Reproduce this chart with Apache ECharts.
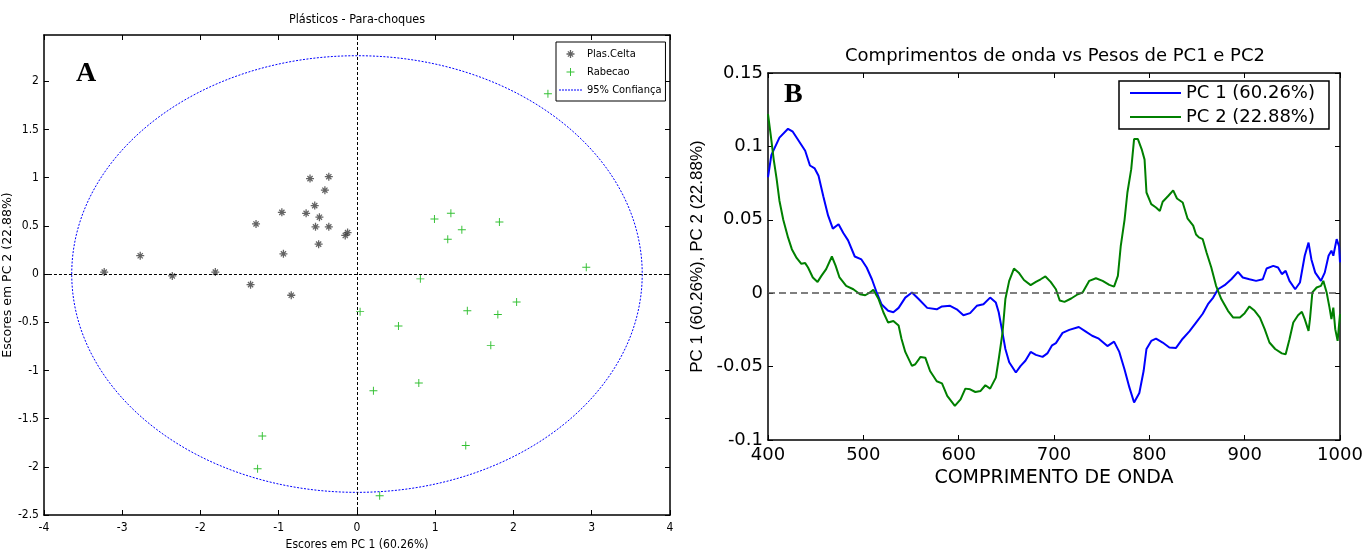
<!DOCTYPE html>
<html><head><meta charset="utf-8">
<script src="https://cdn.jsdelivr.net/npm/echarts@6/dist/echarts.min.js"></script>
<style>html,body{margin:0;padding:0;background:#fff}#c{width:1366px;height:556px}</style>
</head><body><div id="c"></div>
<script>
// ---- Panel A: PCA scores ----
const celtaX = [-3.23, -2.77, -2.36, -1.81, -1.36, -0.84, -1.29, -0.96, -0.94, -0.65, -0.60, -0.36, -0.41, -0.54, -0.48, -0.53, -0.36, -0.49, -0.15, -0.12];
const celtaY = [0.02, 0.19, -0.02, 0.02, -0.11, -0.22, 0.52, 0.64, 0.21, 0.63, 0.99, 1.01, 0.87, 0.71, 0.59, 0.49, 0.49, 0.31, 0.40, 0.43];
const rabX = [2.44, 0.99, 1.20, 1.82, 1.34, 1.16, 2.93, 0.81, 0.04, 1.41, 1.80, 2.04, 0.53, 1.71, 0.79, 0.21, 1.39, -1.21, -1.27, 0.29];
const rabY = [1.87, 0.57, 0.63, 0.54, 0.46, 0.36, 0.07, -0.05, -0.39, -0.38, -0.42, -0.29, -0.54, -0.74, -1.13, -1.21, -1.78, -1.68, -2.02, -2.30];
// confidence ellipse: centre x, centre y, semi-axis x, semi-axis y
const ellipse95 = [0, 0, 3.645, 2.265];
const seriesNamesA = ['Plas.Celta', 'Rabecao', '95% Confiança'];

// ---- Panel B: loadings ----
const pc1Wl = [400, 403.5, 407, 412, 421, 426, 432, 439, 444, 449, 453, 458, 463, 468, 474, 479, 484, 491, 498, 503.5, 509, 514, 519, 526, 531.5, 537, 544, 551, 558, 567, 577, 582.5, 591, 598, 605, 612, 619, 626, 633, 639, 642, 646, 649, 653, 660, 665, 670, 675.5, 681, 688, 693, 698, 702, 709, 716, 726, 733, 740, 747, 756, 763, 768.5, 774, 779, 784, 789.5, 794, 797, 802, 807, 814, 821, 828, 835, 842, 849, 856, 861.5, 867, 872, 879, 886, 893, 898, 905, 912, 919, 923, 930, 935, 939, 943, 947, 953, 958, 963, 967, 970, 974, 980, 984, 988, 991, 993, 996.5, 999, 1000];
const pc1Val = [0.079, 0.094, 0.099, 0.106, 0.112, 0.110, 0.104, 0.097, 0.087, 0.085, 0.080, 0.066, 0.053, 0.044, 0.047, 0.041, 0.036, 0.025, 0.023, 0.0175, 0.0095, 0.0005, -0.0075, -0.012, -0.013, -0.010, -0.003, 0.0005, -0.004, -0.010, -0.011, -0.009, -0.0086, -0.011, -0.015, -0.0136, -0.0086, -0.0075, -0.003, -0.0064, -0.013, -0.027, -0.038, -0.047, -0.054, -0.0495, -0.046, -0.040, -0.042, -0.0434, -0.041, -0.0355, -0.034, -0.027, -0.025, -0.023, -0.026, -0.029, -0.031, -0.036, -0.033, -0.040, -0.052, -0.064, -0.0745, -0.068, -0.053, -0.038, -0.0325, -0.031, -0.0336, -0.037, -0.0373, -0.031, -0.026, -0.020, -0.014, -0.0075, -0.003, 0.0027, 0.0055, 0.0095, 0.0145, 0.0107, 0.0095, 0.0084, 0.0095, 0.0168, 0.0186, 0.0175, 0.013, 0.0152, 0.0084, 0.0027, 0.0073, 0.0255, 0.0345, 0.023, 0.014, 0.0084, 0.014, 0.0255, 0.029, 0.0255, 0.0368, 0.032, 0.021];
const pc2Wl = [400, 403, 406, 409, 412, 416, 421, 425, 430, 435, 439, 442, 447, 452, 456, 461, 467, 471, 475, 482, 489.5, 496.5, 502, 507, 510.5, 516, 521, 526, 531.5, 537, 540, 544, 551, 554.5, 560, 565, 570, 577, 582.5, 588, 596, 602, 607, 612, 617.5, 623, 628, 633, 639, 642, 646, 649, 653, 658, 663, 668.5, 675.5, 681, 686, 691, 696.5, 702, 706, 711, 718, 725, 730, 737, 744, 751, 758, 763, 767, 770, 774, 777, 781, 784, 788, 792, 795, 797, 802, 807, 811, 814, 820, 825, 829, 835, 840, 846, 849, 852, 856, 860, 865, 870, 875.5, 882.5, 888, 895, 900, 905, 910.5, 916, 921, 926, 932, 939, 943, 947, 951, 956, 960, 963, 967, 968.5, 971, 975.5, 980, 982.5, 986, 989, 991, 993, 995, 997.5, 1000];
const pc2Val = [0.122, 0.107, 0.091, 0.078, 0.063, 0.050, 0.038, 0.030, 0.024, 0.020, 0.0205, 0.0175, 0.0107, 0.0077, 0.0118, 0.0164, 0.025, 0.0186, 0.0107, 0.005, 0.0027, -0.0007, -0.0014, 0.0005, 0.0023, -0.004, -0.013, -0.020, -0.0189, -0.022, -0.031, -0.040, -0.0495, -0.0484, -0.0434, -0.0439, -0.053, -0.060, -0.0614, -0.070, -0.0768, -0.0723, -0.065, -0.0655, -0.0673, -0.0666, -0.0627, -0.065, -0.0575, -0.045, -0.0268, -0.004, 0.0084, 0.0168, 0.014, 0.009, 0.0055, 0.0077, 0.0095, 0.0114, 0.0077, 0.0027, -0.005, -0.0059, -0.0036, -0.0007, 0.0005, 0.0084, 0.0102, 0.0084, 0.0057, 0.0045, 0.0118, 0.032, 0.050, 0.0686, 0.0845, 0.105, 0.105, 0.098, 0.091, 0.0686, 0.0607, 0.0584, 0.056, 0.0623, 0.0664, 0.070, 0.0645, 0.0618, 0.051, 0.046, 0.040, 0.038, 0.0368, 0.0277, 0.0175, 0.005, -0.004, -0.012, -0.0166, -0.0166, -0.0136, -0.009, -0.012, -0.0166, -0.0245, -0.0336, -0.038, -0.041, -0.0416, -0.0314, -0.020, -0.015, -0.0127, -0.0177, -0.0257, -0.0177, 0.0005, 0.0039, 0.005, 0.0084, 0.0005, -0.0098, -0.0177, -0.0098, -0.0245, -0.0325, -0.0143];
const seriesNamesB = ['PC 1 (60.26%)', 'PC 2 (22.88%)'];

const NARROW = "'Liberation Sans Narrow','DejaVu Sans Condensed','Arial Narrow',sans-serif";
const WIDE = "'DejaVu Sans',sans-serif";
const ARIAL = "'Liberation Sans',Arial,sans-serif";
const SERIF = "'Liberation Serif','Times New Roman',serif";

const STAR = 'path://M4.2,0H5.8V10H4.2Z M0,4.2H10V5.8H0Z M1.2,2.3L2.3,1.2L8.8,7.7L7.7,8.8Z M7.7,1.2L8.8,2.3L2.3,8.8L1.2,7.7Z';
const PLUS = 'path://M0,4.4H10V5.6H0Z M4.4,0H5.6V10H4.4Z';
const DOTS = 'path://M0,0H2V1H0Z M3,0H5V1H3Z M6,0H8V1H6Z M9,0H11V1H9Z M12,0H14V1H12Z M15,0H17V1H15Z M18,0H20V1H18Z M21,0H23V1H21Z';
const LINE = 'path://M0,0H51V2H0Z';

const zip = (a, b) => a.map((v, i) => [v, b[i]]);
const plain = v => String(Math.round(v * 1000) / 1000);

function boxAxes(grid, isX, min, max, interval, label, name, nameGap, nameStyle, lw) {
  const common = {
    gridIndex: grid, type: 'value', min: min, max: max, interval: interval,
    axisLine: { onZero: false, lineStyle: { color: '#000', width: lw } },
    axisTick: { inside: true, length: 5, lineStyle: { color: '#000', width: 1 } },
    splitLine: { show: false }
  };
  const main = Object.assign({}, common, {
    position: isX ? 'bottom' : 'left',
    axisLabel: Object.assign({ formatter: plain }, label),
    name: name, nameLocation: 'middle', nameGap: nameGap, nameTextStyle: nameStyle
  });
  const opp = Object.assign({}, common, {
    position: isX ? 'top' : 'right',
    axisLabel: { show: false }
  });
  return [main, opp];
}

const xA = boxAxes(0, true, -4, 4, 1,
  { margin: 7, fontFamily: NARROW, fontSize: 12, color: '#000' },
  'Escores em PC 1 (60.26%)', 24, { fontFamily: NARROW, fontSize: 12, color: '#000' }, 1.5);
const yA = boxAxes(0, false, -2.5, 2.48, 0.5,
  { margin: 5, fontFamily: NARROW, fontSize: 12, color: '#000', showMaxLabel: false },
  'Escores em PC 2 (22.88%)', 21, { fontFamily: WIDE, fontSize: 12.5, color: '#000' }, 1.5);
const xB = boxAxes(1, true, 400, 1000, 100,
  { margin: 6, fontFamily: WIDE, fontSize: 18, color: '#000' },
  'COMPRIMENTO DE ONDA', 27, { fontFamily: WIDE, fontSize: 19, color: '#000' }, 1.5);
const yB = boxAxes(1, false, -0.1, 0.15, 0.05,
  { margin: 5, fontFamily: WIDE, fontSize: 18, color: '#000' },
  'PC 1 (60.26%), PC 2 (22.88%)', 62, { fontFamily: ARIAL, fontSize: 17, color: '#000' }, 1.5);

const chart = echarts.init(document.getElementById('c'), null, { renderer: 'canvas' });
chart.setOption({
  animation: false,
  backgroundColor: '#fff',
  grid: [
    { left: 43, top: 35, width: 627, height: 483 },
    { left: 768, top: 73, width: 572, height: 367 }
  ],
  xAxis: [xA[0], xA[1], xB[0], xB[1]],
  yAxis: [yA[0], yA[1], yB[0], yB[1]],
  legend: [
    {
      data: [
        { name: seriesNamesA[0], icon: STAR },
        { name: seriesNamesA[1], icon: PLUS },
        { name: seriesNamesA[2], icon: DOTS }
      ],
      orient: 'vertical', left: 556, top: 42,
      padding: [6, 4, 5, 3], itemWidth: 23, itemHeight: 8, itemGap: 6,
      textStyle: { fontFamily: NARROW, fontSize: 11, lineHeight: 12, color: '#000' },
      borderColor: '#000', borderWidth: 1, backgroundColor: '#fff'
    },
    {
      data: [
        { name: seriesNamesB[0], icon: LINE },
        { name: seriesNamesB[1], icon: LINE }
      ],
      orient: 'vertical', left: 1119, top: 81,
      padding: [3, 14, 3, 11], itemWidth: 51, itemHeight: 14, itemGap: 6,
      textStyle: { fontFamily: WIDE, fontSize: 18, lineHeight: 18, color: '#000' },
      borderColor: '#000', borderWidth: 1.5, backgroundColor: '#fff'
    }
  ],
  graphic: [
    { type: 'text', x: 357, y: 20, style: { text: 'Plásticos - Para-choques', font: "12.5px " + NARROW, fill: '#000', align: 'center', verticalAlign: 'middle' } },
    { type: 'text', x: 1055, y: 56, style: { text: 'Comprimentos de onda vs Pesos de PC1 e PC2', font: "18px " + WIDE, fill: '#000', align: 'center', verticalAlign: 'middle' } },
    { type: 'text', x: 76, y: 74, style: { text: 'A', font: "bold 28px " + SERIF, fill: '#000', align: 'left', verticalAlign: 'middle' } },
    { type: 'text', x: 784, y: 95, style: { text: 'B', font: "bold 28px " + SERIF, fill: '#000', align: 'left', verticalAlign: 'middle' } }
  ],
  series: [
    {
      name: seriesNamesA[0], type: 'scatter', xAxisIndex: 0, yAxisIndex: 0,
      data: zip(celtaX, celtaY), symbol: STAR, symbolSize: 8,
      itemStyle: { color: '#3c3c3c' }, z: 3,
      markLine: {
        silent: true, symbol: ['none', 'none'], label: { show: false },
        lineStyle: { color: '#000', type: [3, 2], width: 1 },
        data: [{ xAxis: 0 }, { yAxis: 0 }]
      }
    },
    {
      name: seriesNamesA[1], type: 'scatter', xAxisIndex: 0, yAxisIndex: 0,
      data: zip(rabX, rabY), symbol: PLUS, symbolSize: 8,
      itemStyle: { color: '#00b000' }, z: 3
    },
    {
      name: seriesNamesA[2], type: 'custom', xAxisIndex: 0, yAxisIndex: 0,
      itemStyle: { color: '#0000ff' },
      encode: { x: 0, y: 1 },
      data: [ellipse95],
      renderItem: function (params, api) {
        const c = api.coord([api.value(0), api.value(1)]);
        const ex = api.coord([api.value(0) + api.value(2), api.value(1)]);
        const ey = api.coord([api.value(0), api.value(1) + api.value(3)]);
        return {
          type: 'ellipse',
          shape: { cx: c[0], cy: c[1], rx: Math.abs(ex[0] - c[0]), ry: Math.abs(c[1] - ey[1]) },
          style: { fill: 'none', stroke: '#0000ff', lineWidth: 1, lineDash: [2, 1.5] }
        };
      }
    },
    {
      name: seriesNamesB[0], type: 'line', xAxisIndex: 2, yAxisIndex: 2,
      data: zip(pc1Wl, pc1Val), symbol: 'none', showSymbol: false,
      lineStyle: { color: '#0000ff', width: 2 }, itemStyle: { color: '#0000ff' },
      markLine: {
        silent: true, symbol: ['none', 'none'], label: { show: false },
        lineStyle: { color: '#555', type: [7, 4], width: 1.5 },
        data: [{ yAxis: 0 }]
      }
    },
    {
      name: seriesNamesB[1], type: 'line', xAxisIndex: 2, yAxisIndex: 2,
      data: zip(pc2Wl, pc2Val), symbol: 'none', showSymbol: false,
      lineStyle: { color: '#008000', width: 2 }, itemStyle: { color: '#008000' }
    }
  ]
});
</script>
</body></html>
